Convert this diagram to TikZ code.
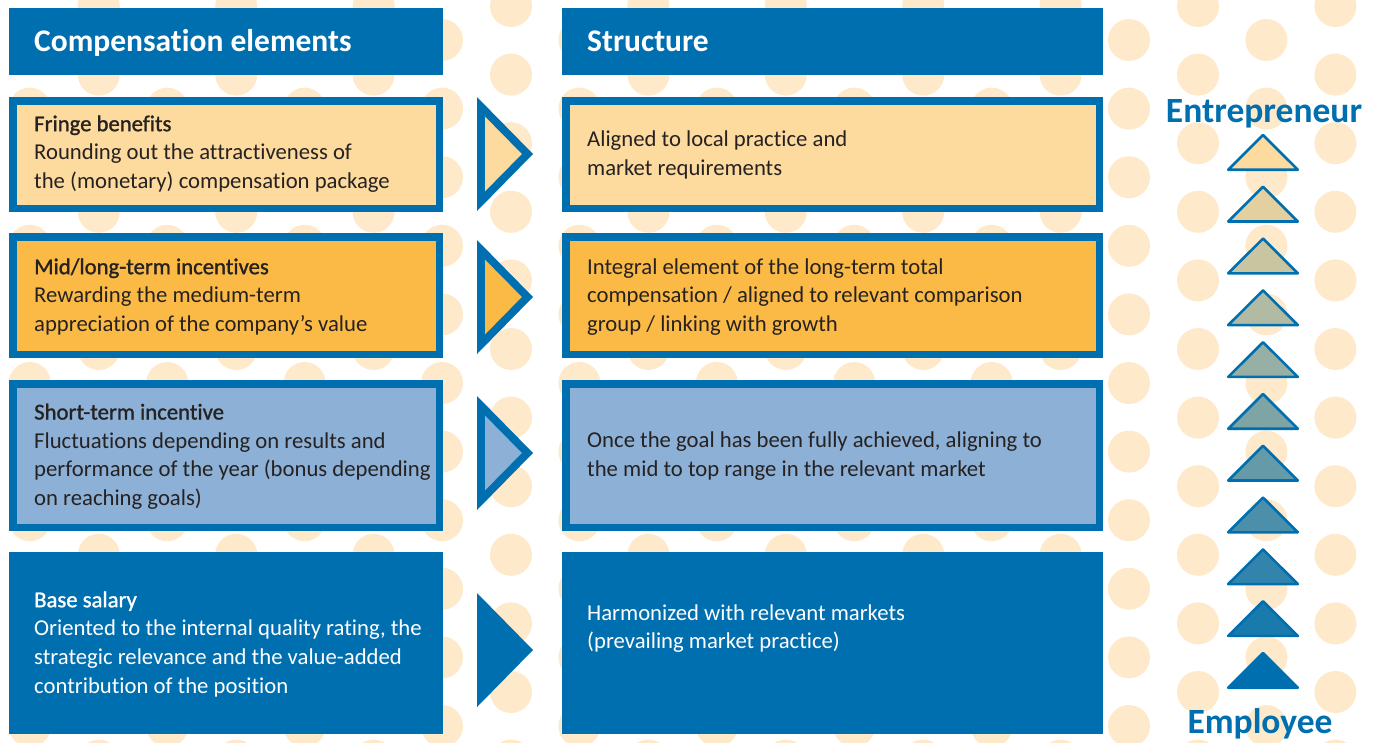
\documentclass[tikz,border=0pt]{standalone}
\usepackage{fontspec}
\setmainfont{Carlito}[Ligatures=NoCommon]
\newfontfamily\headfont{Carlito}[Ligatures=NoCommon]
\newfontfamily\leadfont{Carlito}[FakeBold=1.2, Ligatures=NoCommon]
\definecolor{cblue}{RGB}{0,111,175}
\definecolor{cpeach}{RGB}{253,218,158}
\definecolor{corange}{RGB}{251,186,70}
\definecolor{csky}{RGB}{140,176,214}
\definecolor{cdot}{RGB}{254,233,203}
\definecolor{ctext}{RGB}{38,34,34}
\tikzset{
  hdr/.style={fill=cblue, draw=none, inner sep=0pt, minimum height=67pt},
  framed/.style={draw=cblue, line width=7.5pt, inner sep=0pt},
  leftcol/.style={minimum width=426.5pt},
  rightcol/.style={minimum width=533.5pt},
  solidbox/.style={fill=cblue, draw=none, inner sep=0pt, minimum height=182pt},
  hdrtext/.style={anchor=base west, inner sep=0pt, text=white,
    font=\headfont\bfseries\fontsize{31.5}{36}\selectfont},
  % base anchor of a multi-line text sits on its last line
  body/.style={anchor=base west, inner sep=0pt, align=left, text=ctext,
    font=\fontsize{22.7}{28.7}\selectfont},
  bodywhite/.style={body, text=white},
  poletext/.style={anchor=base, inner sep=0pt, text=cblue,
    font=\headfont\bfseries\fontsize{35.5}{40}\selectfont},
}
\begin{document}
\begin{tikzpicture}[x=1pt, y=-1pt]
\useasboundingbox (0,0) rectangle (1378,742);

% dotted background pattern
\begin{scope}
  \clip (0,0) rectangle (1378,742);
  \foreach \k in {0,...,9} {
    \foreach \j in {0,...,11} {
      \fill[cdot] (98.8+137.4*\k, 6+68.6*\j) circle[radius=21pt];
      \fill[cdot] (29.8+137.4*\k, 40+68.6*\j) circle[radius=21pt];
    }
  }
\end{scope}

% column headers
\node[hdr, minimum width=434pt] (hdrL) at (226,41.5) {};
\node[hdr, minimum width=541pt] (hdrR) at (832.5,41.5) {};
\node[hdrtext] (hdrLtxt) at (34,51) {Compensation elements};
\node[hdrtext] (hdrRtxt) at (587,51) {Structure};

% compensation element boxes
\node[framed, leftcol, fill=cpeach, minimum height=107.5pt] (fringeL) at (226,154.5) {};
\node[framed, leftcol, fill=corange, minimum height=117.5pt] (midL) at (226,295.5) {};
\node[framed, leftcol, fill=csky, minimum height=143.5pt] (shortL) at (226,455.5) {};
\node[solidbox, minimum width=434pt] (baseL) at (226,643) {};

% structure boxes
\node[framed, rightcol, fill=cpeach, minimum height=107.5pt] (fringeR) at (832.5,154.5) {};
\node[framed, rightcol, fill=corange, minimum height=117.5pt] (midR) at (832.5,295.5) {};
\node[framed, rightcol, fill=csky, minimum height=143.5pt] (shortR) at (832.5,455.5) {};
\node[solidbox, minimum width=541pt] (baseR) at (832.5,643) {};

% box texts
\node[body] (fringeLtxt) at (34,188.6) {{\leadfont Fringe benefits}\\Rounding out the attractiveness of\\the (monetary) compensation package};
\node[body] (midLtxt) at (34,331.6) {{\leadfont Mid/long-term incentives}\\Rewarding the medium-term\\appreciation of the company’s value};
\node[body] (shortLtxt) at (34,505.6) {{\leadfont Short-term incentive}\\Fluctuations depending on results and\\performance of the year (bonus depending\\on reaching goals)};
\node[bodywhite] (baseLtxt) at (34,693.3) {{\leadfont Base salary}\\Oriented to the internal quality rating, the\\strategic relevance and the value-added\\contribution of the position};

\node[body] (fringeRtxt) at (587,175.2) {Aligned to local practice and\\market requirements};
\node[body] (midRtxt) at (587,331.6) {Integral element of the long-term total\\compensation / aligned to relevant comparison\\group / linking with growth};
\node[body] (shortRtxt) at (587,476.4) {Once the goal has been fully achieved, aligning to\\the mid to top range in the relevant market};
\node[bodywhite] (baseRtxt) at (587,648.9) {Harmonized with relevant markets\\(prevailing market practice)};

% arrow heads between the columns
\foreach \cy/\col in {154/cpeach, 297/corange, 453/csky} {
  \fill[cblue] (477,\cy-57) -- (533,\cy) -- (477,\cy+57) -- cycle;
  \fill[\col] (485,\cy-37.4) -- (521.8,\cy) -- (485,\cy+37.4) -- cycle;
}
\fill[cblue] (477,593) -- (533,650) -- (477,707) -- cycle;

% ladder of triangles from employee to entrepreneur
\foreach \k in {0,...,10} {
  \pgfmathtruncatemacro\pct{10*\k}
  \pgfmathsetmacro\ty{133+51.8*\k}
  \filldraw[draw=cblue, fill=cblue!\pct!cpeach, line width=2.6pt, line join=round]
    (1263,\ty+2) -- (1297.8,\ty+36.7) -- (1228.2,\ty+36.7) -- cycle;
}
\node[poletext] (entre) at (1264,122) {Entrepreneur};
\node[poletext] (emplo) at (1260,733) {Employee};
\end{tikzpicture}
\end{document}
